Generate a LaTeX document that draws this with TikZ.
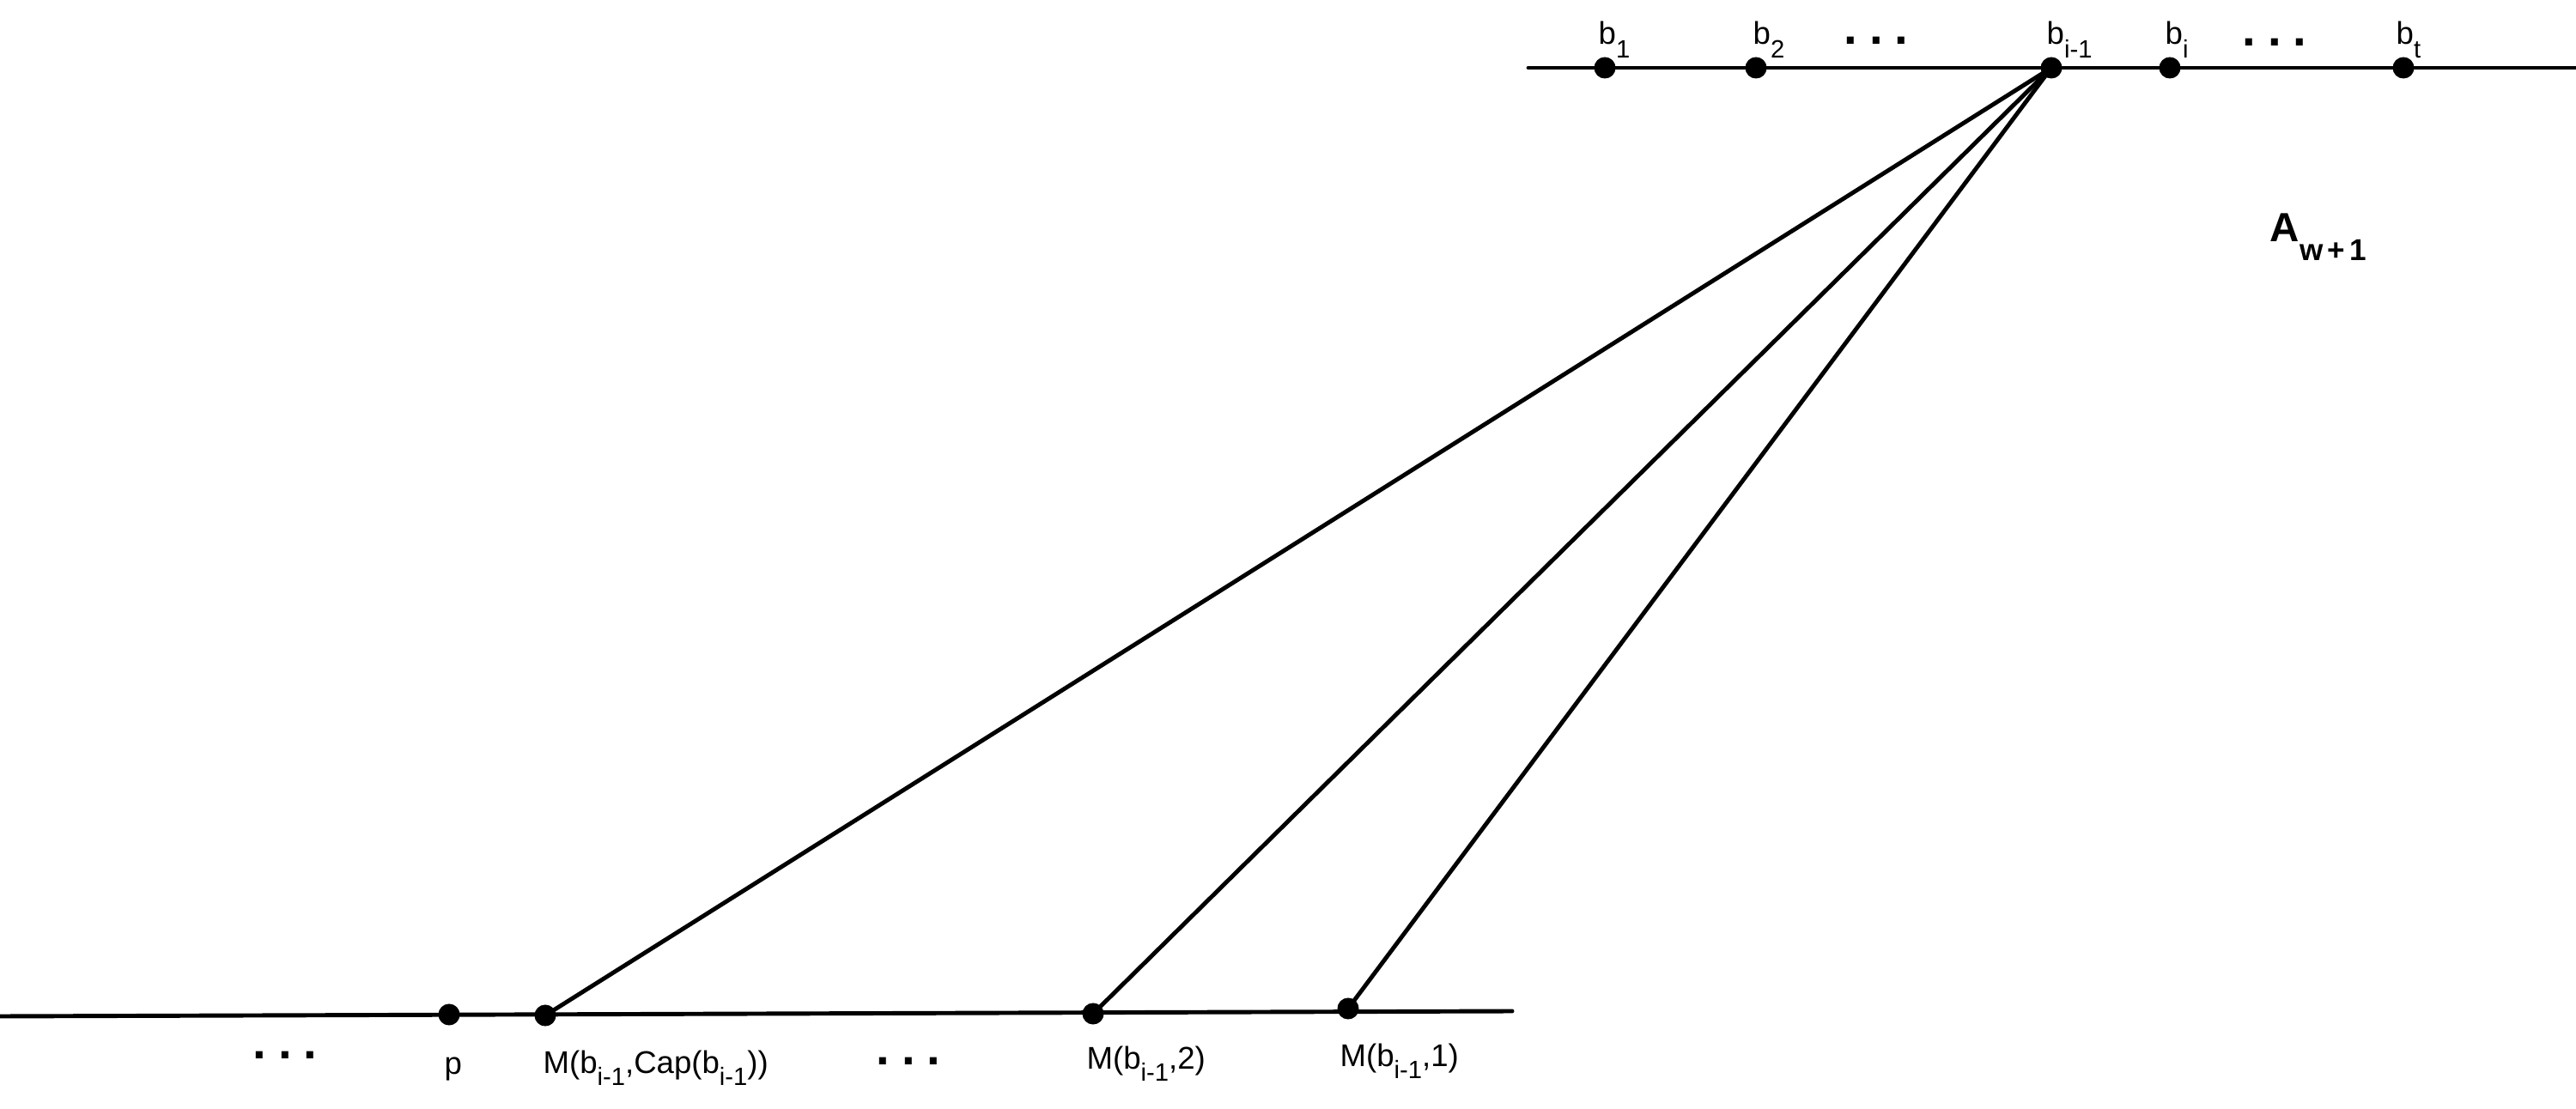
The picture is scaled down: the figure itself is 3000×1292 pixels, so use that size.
\documentclass[tikz,border=0pt]{standalone}
\usepackage{fontspec}
\setmainfont{Liberation Sans}
\newcommand\subT[1]{\raisebox{-4.5pt}{\fontsize{8.3pt}{10pt}\selectfont #1}}
\newcommand\subB[1]{\raisebox{-4pt}{\fontsize{8.3pt}{10pt}\selectfont #1}}
\newcommand\threedots{.\kern4pt.\kern4pt.}
\begin{document}
\begin{tikzpicture}[x=0.01cm,y=-0.01cm,
  bdot/.style={circle,fill=black,inner sep=0pt,minimum size=0.25cm},
  ln/.style={line width=1.4pt,line cap=round},
  lab/.style={inner sep=0pt,anchor=base west,font=\fontsize{10.4pt}{12pt}\selectfont},
  ell/.style={inner sep=0pt,anchor=base,font=\bfseries\fontsize{16pt}{18pt}\selectfont}]
\useasboundingbox (0,0) rectangle (3000,1292);
% top line
\coordinate (tl) at (1780,79);
\coordinate (tr) at (3000,79);
\draw[ln] (tl) -- (tr);
% bottom line
\coordinate (bl) at (0,1184);
\coordinate (br) at (1761,1178);
\draw[ln] (bl) -- (br);
% top dots
\node[bdot] (b1) at (1869,79) {};
\node[bdot] (b2) at (2045,79) {};
\node[bdot] (bim1) at (2389,79) {};
\node[bdot] (bi) at (2527,79) {};
\node[bdot] (bt) at (2799,79) {};
% bottom dots
\node[bdot] (p) at (523,1182) {};
\node[bdot] (mcap) at (635,1183) {};
\node[bdot] (m2) at (1273,1181) {};
\node[bdot] (m1) at (1570,1175) {};
% fan
\draw[ln] (bim1.center) -- (mcap.center);
\draw[ln] (bim1.center) -- (m2.center);
\draw[ln] (bim1.center) -- (m1.center);
% top labels
\node[lab] (lb1) at (1861,52) {b\subT{1}};
\node[lab] (lb2) at (2041,52) {b\subT{2}};
\node[lab] (lbim1) at (2383,52) {b\subT{i-1}};
\node[lab] (lbi) at (2521,52) {b\subT{i}};
\node[lab] (lbt) at (2790,52) {b\subT{t}};
\node[ell] (e1) at (2185,52) {\threedots};
\node[ell] (e2) at (2649,54) {\threedots};
% A label
\node[inner sep=0pt,anchor=base west,font=\bfseries\fontsize{13.5pt}{16pt}\selectfont] (aw) at (2643,282)
  {A\raisebox{-6pt}{\fontsize{10pt}{12pt}\selectfont w\kern1.5pt+\kern1.5pt1}};
% bottom labels
\node[lab] (lp) at (517,1251) {p};
\node[lab] (lmcap) at (632,1250) {M(b\subB{i-1},Cap(b\subB{i-1}))};
\node[lab] (lm2) at (1265,1245) {M(b\subB{i-1},2)};
\node[lab] (lm1) at (1560,1242) {M(b\subB{i-1},1)};
\node[ell] (e3) at (332,1233) {\threedots};
\node[ell] (e4) at (1058,1240) {\threedots};
\end{tikzpicture}
\end{document}
